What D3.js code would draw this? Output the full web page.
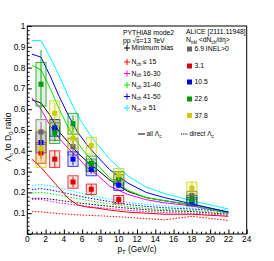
<!DOCTYPE html>
<html>
<head>
<meta charset="utf-8">
<script src="https://cdn.jsdelivr.net/npm/d3@7"></script>
<style>
  body { margin: 0; background: #fff; }
  text { font-family: "Liberation Sans", Arial, sans-serif; }
</style>
</head>
<body>
<svg id="chart" width="274" height="261"></svg>
<script>
// PYTHIA8 mode2 curves, bin centres in pT
const ptBins = [0.5, 1.5, 2.5, 3.5, 4.5, 5.5, 6.5, 7.5, 9, 11, 13, 15, 18, 22];

// all Lambda_c (solid)
const allMB   = [0.645, 0.63, 0.57, 0.49, 0.44, 0.39, 0.35, 0.315, 0.26, 0.205, 0.175, 0.16, 0.14, 0.105];
const all15   = [0.36, 0.32, 0.27, 0.22, 0.17, 0.14, 0.13, 0.125, 0.115, 0.105, 0.10, 0.095, 0.095, 0.085];
const all1630 = [0.655, 0.60, 0.52, 0.46, 0.41, 0.37, 0.32, 0.29, 0.23, 0.19, 0.165, 0.15, 0.135, 0.10];
const all3140 = [0.81, 0.79, 0.70, 0.60, 0.51, 0.44, 0.38, 0.34, 0.27, 0.21, 0.175, 0.16, 0.14, 0.10];
const all4150 = [0.865, 0.85, 0.76, 0.66, 0.57, 0.49, 0.43, 0.38, 0.31, 0.245, 0.20, 0.175, 0.145, 0.105];
const all51   = [0.93, 0.93, 0.85, 0.76, 0.66, 0.57, 0.50, 0.44, 0.36, 0.28, 0.225, 0.195, 0.16, 0.12];

// direct Lambda_c (dotted)
const dirMB   = [0.171, 0.172, 0.168, 0.162, 0.156, 0.15, 0.145, 0.14, 0.133, 0.124, 0.117, 0.112, 0.108, 0.095];
const dir15   = [0.108, 0.106, 0.102, 0.098, 0.095, 0.092, 0.09, 0.088, 0.085, 0.08, 0.074, 0.068, 0.085, 0.065];
const dir1630 = [0.167, 0.166, 0.158, 0.15, 0.144, 0.138, 0.133, 0.128, 0.122, 0.114, 0.108, 0.103, 0.1, 0.09];
const dir3140 = [0.197, 0.2, 0.195, 0.187, 0.178, 0.17, 0.162, 0.155, 0.145, 0.132, 0.124, 0.118, 0.112, 0.1];
const dir4150 = [0.214, 0.218, 0.212, 0.203, 0.194, 0.184, 0.175, 0.167, 0.156, 0.142, 0.133, 0.126, 0.12, 0.108];
const dir51   = [0.232, 0.238, 0.232, 0.222, 0.212, 0.2, 0.19, 0.18, 0.168, 0.152, 0.142, 0.135, 0.125, 0.115];

// ALICE [2111.11948] data points
const alicePt = [1.5, 3, 5, 7, 10, 18];
const val69  = [0.49, 0.50, 0.42, 0.33, 0.26, 0.185];
const val31  = [0.39, 0.36, 0.25, 0.215, 0.165, null];
const val105 = [0.44, 0.51, 0.36, 0.31, 0.235, 0.155];
const val226 = [0.72, 0.485, 0.53, 0.34, 0.27, 0.165];
const val378 = [0.41, 0.58, 0.46, 0.425, 0.285, 0.22];
const stat69  = [0.05, 0.03, 0.03, 0.02, 0.015, 0.02];
const stat31  = [0.03, 0.04, 0.025, 0.025, 0.02, null];
const stat105 = [0.04, 0.03, 0.03, 0.02, 0.015, 0.02];
const stat226 = [0.165, 0.04, 0.04, 0.025, 0.02, 0.02];
const stat378 = [0.07, 0.05, 0.04, 0.035, 0.025, 0.03];
const syst69  = [0.06, 0.05, 0.04, 0.03, 0.025, 0.02];
const syst31  = [0.05, 0.04, 0.03, 0.025, 0.02, null];
const syst105 = [0.05, 0.04, 0.035, 0.03, 0.025, 0.02];
const syst226 = [0.105, 0.05, 0.05, 0.035, 0.03, 0.02];
const syst378 = [0.09, 0.06, 0.05, 0.04, 0.03, 0.03];

const xTicks = [0, 2, 4, 6, 8, 10, 12, 14, 16, 18, 20, 22, 24];
const yTicks = [0.1, 0.2, 0.3, 0.4, 0.5, 0.6, 0.7, 0.8, 0.9, 1];

const pythia = [
  {label: "Minimum bias", color: "#000000", all: allMB, dir: dirMB},
  {label: "≤ 15", color: "#ff0000", all: all15, dir: dir15},
  {label: "16-30", color: "#ff00ff", all: all1630, dir: dir1630},
  {label: "31-40", color: "#00ee00", all: all3140, dir: dir3140},
  {label: "41-50", color: "#0000ff", all: all4150, dir: dir4150},
  {label: "≥ 51", color: "#00ffff", all: all51, dir: dir51}
];
const alice = [
  {label: "6.9 INEL>0", color: "#666666", v: val69, s: stat69, sy: syst69},
  {label: "3.1", color: "#dd0000", v: val31, s: stat31, sy: syst31},
  {label: "10.5", color: "#0000ee", v: val105, s: stat105, sy: syst105},
  {label: "22.6", color: "#009900", v: val226, s: stat226, sy: syst226},
  {label: "37.8", color: "#cccc00", v: val378, s: stat378, sy: syst378}
];

const svg = d3.select("#chart");
const padL = 27.3, padR = 246.7, padT = 26, padB = 234;

const x = d3.scaleLinear().domain([0, 24]).range([padL, padR]);
const y = d3.scaleLinear().domain([0, 1]).range([padB, padT]);

// curves
const line = d3.line()
  .x(function(d, i) { return x(ptBins[i]); })
  .y(function(d) { return y(d); });

const curves = svg.append("g");
pythia.forEach(function(p) {
  curves.append("path").attr("d", line(p.dir))
    .attr("fill", "none").attr("stroke", p.color)
    .attr("stroke-width", 1).attr("stroke-dasharray", "1.5,1.5");
});
pythia.forEach(function(p) {
  curves.append("path").attr("d", line(p.all))
    .attr("fill", "none").attr("stroke", p.color).attr("stroke-width", 1);
});

// ALICE points: syst boxes, stat bars, markers
const halfW = 0.55;
const pts = svg.append("g");
alice.forEach(function(a) {
  alicePt.forEach(function(pt, i) {
    if (a.v[i] == null) return;
    pts.append("rect")
      .attr("x", x(pt - halfW)).attr("width", x(pt + halfW) - x(pt - halfW))
      .attr("y", y(a.v[i] + a.sy[i])).attr("height", y(a.v[i] - a.sy[i]) - y(a.v[i] + a.sy[i]))
      .attr("fill", a.color).attr("fill-opacity", 0.12)
      .attr("stroke", a.color).attr("stroke-opacity", 0.75).attr("stroke-width", 1);
  });
});
alice.forEach(function(a) {
  alicePt.forEach(function(pt, i) {
    if (a.v[i] == null) return;
    pts.append("line")
      .attr("x1", x(pt)).attr("x2", x(pt))
      .attr("y1", y(a.v[i] + a.s[i])).attr("y2", y(a.v[i] - a.s[i]))
      .attr("stroke", a.color).attr("stroke-opacity", 0.6).attr("stroke-width", 1.5);
    pts.append("rect")
      .attr("x", x(pt) - 2.5).attr("y", y(a.v[i]) - 2.5)
      .attr("width", 5).attr("height", 5)
      .attr("fill", a.color);
  });
});

// frame
svg.append("rect")
  .attr("x", padL).attr("y", padT)
  .attr("width", padR - padL).attr("height", padB - padT)
  .attr("fill", "none").attr("stroke", "#000").attr("stroke-width", 1);

// axes: ticks inside the frame, like ROOT
const xAxis = svg.append("g").attr("transform", "translate(0," + padB + ")")
  .call(d3.axisBottom(x).tickValues(d3.range(0, 24.01, 0.5)).tickSize(0).tickFormat(""));
xAxis.select(".domain").remove();
xAxis.selectAll(".tick line")
  .attr("y2", function(d) { return Math.abs(d % 2) < 1e-6 ? -4.5 : -2.3; })
  .attr("stroke", "#000");
xTicks.forEach(function(t) {
  svg.append("text").attr("x", x(t)).attr("y", padB + 8.3)
    .attr("text-anchor", "middle").attr("font-size", 8.3).text(t);
});

const yAxis = svg.append("g").attr("transform", "translate(" + padL + ",0)")
  .call(d3.axisLeft(y).tickValues(d3.range(0, 1.001, 0.02)).tickSize(0).tickFormat(""));
yAxis.select(".domain").remove();
yAxis.selectAll(".tick line")
  .attr("x2", function(d) { return Math.abs(Math.round(d * 100) % 10) < 1e-6 ? 4.5 : 2.3; })
  .attr("stroke", "#000");
yTicks.forEach(function(t) {
  svg.append("text").attr("x", padL - 2).attr("y", y(t) + 3)
    .attr("text-anchor", "end").attr("font-size", 8.3).text(t);
});

// axis titles
const xt = svg.append("text").attr("x", (padL + padR) / 2).attr("y", 251.5)
  .attr("text-anchor", "middle").attr("font-size", 8.3);
xt.append("tspan").text("p");
xt.append("tspan").attr("font-size", 6).attr("dy", 2).text("T");
xt.append("tspan").attr("dy", -2).text(" (GeV/c)");

const yt = svg.append("text").attr("transform", "translate(11,137) rotate(-90)")
  .attr("text-anchor", "middle").attr("font-size", 8.5);
yt.append("tspan").text("Λ");
yt.append("tspan").attr("font-size", 6).attr("dy", 2).text("c");
yt.append("tspan").attr("dy", -2).text(" to D");
yt.append("tspan").attr("font-size", 6).attr("dy", 2).text("0");
yt.append("tspan").attr("dy", -2).text(" ratio");

// PYTHIA legend
const lg = svg.append("g").attr("font-size", 6.8);
lg.append("text").attr("x", 123).attr("y", 34.5).text("PYTHIA8 mode2");
const pp = lg.append("text").attr("x", 123).attr("y", 42.5);
pp.append("tspan").text("pp √");
pp.append("tspan").attr("text-decoration", "overline").text("s");
pp.append("tspan").text("=13 TeV");
const pyRows = [48, 62, 73.5, 85, 96.5, 108];
pythia.forEach(function(p, i) {
  const yy = pyRows[i];
  lg.append("line").attr("x1", 124).attr("x2", 130).attr("y1", yy).attr("y2", yy)
    .attr("stroke", p.color).attr("stroke-width", 1);
  lg.append("line").attr("x1", 127).attr("x2", 127).attr("y1", yy - 3).attr("y2", yy + 3)
    .attr("stroke", p.color).attr("stroke-width", 1);
  const t = lg.append("text").attr("x", 131.5).attr("y", yy + 2.4);
  if (i === 0) {
    t.text(p.label);
  } else {
    t.append("tspan").text("N");
    t.append("tspan").attr("font-size", 4.5).attr("dy", 1.5).text("ch");
    t.append("tspan").attr("dy", -1.5).text(" " + p.label);
  }
});

// ALICE legend
const al = svg.append("g").attr("font-size", 6.8);
al.append("text").attr("x", 186).attr("y", 33.5).text("ALICE [2111.11948]");
const nt = al.append("text").attr("x", 186).attr("y", 42);
nt.append("tspan").text("N");
nt.append("tspan").attr("font-size", 4.5).attr("dy", 1.5).text("trkl");
nt.append("tspan").attr("dy", -1.5).text(" <dN");
nt.append("tspan").attr("font-size", 4.5).attr("dy", 1.5).text("ch");
nt.append("tspan").attr("dy", -1.5).text("/dη>");
const alRows = [49, 66, 82, 99, 115.5];
alice.forEach(function(a, i) {
  const yy = alRows[i];
  al.append("rect").attr("x", 187).attr("y", yy - 2.5).attr("width", 5).attr("height", 5)
    .attr("fill", a.color);
  al.append("text").attr("x", 194.5).attr("y", yy + 2.4).text(a.label);
});

// line style legend
const ls = svg.append("g").attr("font-size", 6.5);
ls.append("line").attr("x1", 138).attr("x2", 145).attr("y1", 134).attr("y2", 134)
  .attr("stroke", "#000").attr("stroke-width", 1);
const t1 = ls.append("text").attr("x", 146.5).attr("y", 136.3);
t1.append("tspan").text("all Λ");
t1.append("tspan").attr("font-size", 4.5).attr("dy", 1.5).text("c");
ls.append("line").attr("x1", 181).attr("x2", 188).attr("y1", 134).attr("y2", 134)
  .attr("stroke", "#000").attr("stroke-width", 1).attr("stroke-dasharray", "1.2,1");
const t2 = ls.append("text").attr("x", 189.5).attr("y", 136.3);
t2.append("tspan").text("direct Λ");
t2.append("tspan").attr("font-size", 4.5).attr("dy", 1.5).text("c");
</script>
</body>
</html>
